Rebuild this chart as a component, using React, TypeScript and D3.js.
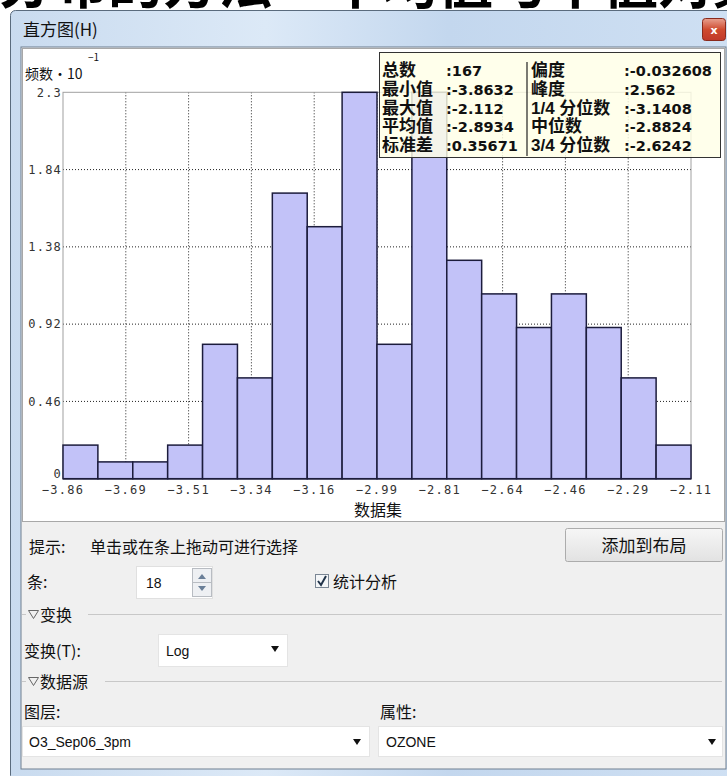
import React from 'react';
import * as d3 from 'd3';

// ---- data ----
const binCounts = [2, 1, 1, 2, 8, 6, 17, 15, 23, 8, 23, 13, 11, 9, 11, 9, 6, 2];
const xTickLabels = ['−3.86', '−3.69', '−3.51', '−3.34', '−3.16', '−2.99', '−2.81', '−2.64', '−2.46', '−2.29', '−2.11'];
const yTickValues = [0, 0.46, 0.92, 1.38, 1.84, 2.3];
const yTickLabels = ['0', '0.46', '0.92', '1.38', '1.84', '2.3'];
const statLabelsLeft = ['总数', '最小值', '最大值', '平均值', '标准差'];
const statValuesLeft = [':167', ':-3.8632', ':-2.112', ':-2.8934', ':0.35671'];
const statLabelsRight = ['偏度', '峰度', '1/4 分位数', '中位数', '3/4 分位数'];
const statValuesRight = [':-0.032608', ':2.562', ':-3.1408', ':-2.8824', ':-2.6242'];

const CJK = "'Noto Sans CJK SC', sans-serif";
const MONO = "'DejaVu Sans Mono', monospace";

export default function App() {
  const W = 727, H = 776;
  const plot = { left: 63, right: 691, top: 92.3, bottom: 478.7 };
  const y = d3.scaleLinear().domain([0, 2.3]).range([plot.bottom, plot.top]);
  const xBin = d3.scaleLinear().domain([0, binCounts.length]).range([plot.left, plot.right]);
  const xTick = d3.scaleLinear().domain([0, xTickLabels.length - 1]).range([plot.left, plot.right]);

  const rowY = (i: number) => 76 + i * 18.8;

  return (
    <div style={{ position: 'absolute', left: 0, top: 0, width: W, height: H, background: '#fff' }}>
      <svg width={W} height={H} style={{ display: 'block' }}>
        <defs>
          <linearGradient id="titleGrad" x1="0" x2="1" y1="0" y2="0">
            <stop offset="0" stopColor="#c9dbef" />
            <stop offset="0.35" stopColor="#dce9f7" />
            <stop offset="0.6" stopColor="#c3d7ee" />
            <stop offset="1" stopColor="#cfe0f3" />
          </linearGradient>
          <linearGradient id="closeGrad" x1="0" x2="0" y1="0" y2="1">
            <stop offset="0" stopColor="#e8a190" />
            <stop offset="0.5" stopColor="#cf4b30" />
            <stop offset="1" stopColor="#c0392b" />
          </linearGradient>
          <linearGradient id="btnGrad" x1="0" x2="0" y1="0" y2="1">
            <stop offset="0" stopColor="#f6f6f6" />
            <stop offset="1" stopColor="#e2e2e2" />
          </linearGradient>
          <clipPath id="topClip"><rect x={0} y={0} width={W} height={11} /></clipPath>
        </defs>

        {/* cut-off document text above window */}
        <g clipPath="url(#topClip)">
          <text x={-2} y={3} fontFamily={CJK} fontWeight="bold" fontSize={55} fill="#000">分布的方法一平均值与中值对数</text>
        </g>

        {/* window frame */}
        <rect x={10.5} y={10.5} width={730} height={770} fill="url(#titleGrad)" stroke="#5a6b7d" rx={5} />
        <rect x={21} y={47} width={705} height={722} fill="#f0f0f0" stroke="#6f7f90" />
        <text x={23} y={36} fontFamily={CJK} fontSize={17} fill="#111">直方图(H)</text>
        <rect x={702.5} y={18.5} width={23} height={22} rx={3} fill="url(#closeGrad)" stroke="#8a2a1c" />
        <text x={714} y={34} textAnchor="middle" fontFamily="'DejaVu Sans', sans-serif" fontWeight="bold" fontSize={11} fill="#fff">x</text>

        {/* chart panel */}
        <rect x={22.5} y={48.5} width={702} height={473} fill="#fff" stroke="#a8a8a8" />

        <text x={25} y={79} fontFamily={CJK} fontSize={14} fill="#111">频数·10</text>
        <text x={88} y={61} fontFamily={CJK} fontSize={10} fill="#111">−1</text>

        {/* grid */}
        {yTickValues.slice(1, -1).map((v) => (
          <line key={'hg' + v} x1={plot.left} x2={plot.right} y1={y(v)} y2={y(v)} stroke="#222" strokeDasharray="1,2" />
        ))}
        {xTickLabels.slice(1, -1).map((l, i) => (
          <line key={'vg' + l} x1={xTick(i + 1)} x2={xTick(i + 1)} y1={plot.top} y2={plot.bottom} stroke="#222" strokeDasharray="1,2" />
        ))}
        <rect x={plot.left} y={plot.top} width={plot.right - plot.left} height={plot.bottom - plot.top} fill="none" stroke="#a0a0a0" />

        {/* bars */}
        {binCounts.map((c, i) => (
          <rect key={'b' + i} x={xBin(i)} y={y(c / 10)} width={xBin(i + 1) - xBin(i)} height={plot.bottom - y(c / 10)}
            fill="#c2c2f8" stroke="#1c1c3c" strokeWidth={1.5} />
        ))}
        <line x1={plot.left} x2={plot.right} y1={plot.bottom} y2={plot.bottom} stroke="#1c1c3c" strokeWidth={1.5} />

        {/* y tick labels */}
        {yTickValues.map((v, i) => (
          <text key={'yl' + i} x={62} y={Math.min(y(v), 474)} dy="0.35em" textAnchor="end" fontFamily={MONO} fontSize={12} letterSpacing={1.2} fill="#333">{yTickLabels[i]}</text>
        ))}
        {/* x tick labels */}
        {xTickLabels.map((l, i) => (
          <text key={'xl' + i} x={xTick(i)} y={494} textAnchor="middle" fontFamily={MONO} fontSize={12} letterSpacing={1.3} fill="#333">{l}</text>
        ))}
        <text x={378} y={516} textAnchor="middle" fontFamily={CJK} fontSize={16} fill="#111">数据集</text>

        {/* statistics box */}
        <rect x={379.5} y={52.5} width={341} height={105} fill="#ffffe6" fillOpacity={0.82} stroke="#333" />
        <line x1={527} x2={527} y1={62} y2={156} stroke="#222" strokeWidth={1.2} />
        {statLabelsLeft.map((l, i) => (
          <text key={'sl' + i} x={382} y={rowY(i)} fontFamily={"'Liberation Sans', " + CJK} fontWeight="bold" fontSize={17} fill="#111">{l}</text>
        ))}
        {statValuesLeft.map((v, i) => (
          <text key={'sv' + i} x={446} y={rowY(i)} fontFamily="'DejaVu Sans', sans-serif" fontWeight="bold" fontSize={14.5} fill="#111">{v}</text>
        ))}
        {statLabelsRight.map((l, i) => (
          <text key={'rl' + i} x={531} y={rowY(i)} fontFamily={"'Liberation Sans', " + CJK} fontWeight="bold" fontSize={17} fill="#111">{l}</text>
        ))}
        {statValuesRight.map((v, i) => (
          <text key={'rv' + i} x={624} y={rowY(i)} fontFamily="'DejaVu Sans', sans-serif" fontWeight="bold" fontSize={14.5} fill="#111">{v}</text>
        ))}

        {/* lower controls */}
        <text x={29} y={553} fontFamily={CJK} fontSize={16} fill="#111">提示:</text>
        <text x={90} y={553} fontFamily={CJK} fontSize={16} fill="#111">单击或在条上拖动可进行选择</text>
        <rect x={565.5} y={528.5} width={157} height={33} fill="url(#btnGrad)" stroke="#acacac" rx={2} />
        <text x={644} y={552} textAnchor="middle" fontFamily={CJK} fontSize={17} fill="#111">添加到布局</text>

        <text x={27} y={588} fontFamily={CJK} fontSize={16} fill="#111">条:</text>
        <rect x={136.5} y={566.5} width={76} height={32} fill="#fff" stroke="#e0e0e0" />
        <text x={146} y={588} fontFamily="'Liberation Sans', sans-serif" fontSize={14} fill="#111">18</text>
        <rect x={192.5} y={568.5} width={19} height={28} fill="#eef0f3" stroke="#b8bcc2" />
        <line x1={193} x2={211} y1={582.5} y2={582.5} stroke="#b8bcc2" />
        <path d="M198,579 L202,574 L206,579 Z" fill="#6a7f98" />
        <path d="M198,586 L202,591 L206,586 Z" fill="#6a7f98" />

        <rect x={315.5} y={574.5} width={13} height={13} fill="#f4f6f8" stroke="#7a8694" />
        <path d="M318,581 L321,585 L326,576" fill="none" stroke="#22344a" strokeWidth={2} />
        <text x={333} y={588} fontFamily={CJK} fontSize={16} fill="#111">统计分析</text>

        <line x1={22} x2={26} y1={614.5} y2={614.5} stroke="#c8c8c8" />
        <path d="M28.5,610.5 L38.5,610.5 L33.5,618.5 Z" fill="none" stroke="#666" />
        <text x={40} y={621} fontFamily={CJK} fontSize={16} fill="#111">变换</text>
        <line x1={88} x2={722} y1={614.5} y2={614.5} stroke="#c8c8c8" />

        <text x={24} y={657} fontFamily={CJK} fontSize={16} fill="#111">变换(T):</text>
        <rect x={158.5} y={634.5} width={129} height={32} fill="#fff" stroke="#e4e4e4" />
        <text x={166} y={656} fontFamily="'Liberation Sans', sans-serif" fontSize={14} fill="#111">Log</text>
        <path d="M271,646 L279,646 L275,652 Z" fill="#111" />

        <line x1={22} x2={26} y1={681.5} y2={681.5} stroke="#c8c8c8" />
        <path d="M28.5,677.5 L38.5,677.5 L33.5,685.5 Z" fill="none" stroke="#666" />
        <text x={40} y={688} fontFamily={CJK} fontSize={16} fill="#111">数据源</text>
        <line x1={105} x2={722} y1={681.5} y2={681.5} stroke="#c8c8c8" />

        <text x={24} y={718} fontFamily={CJK} fontSize={16} fill="#111">图层:</text>
        <text x={380} y={718} fontFamily={CJK} fontSize={16} fill="#111">属性:</text>
        <rect x={22.5} y={726.5} width={347} height={30} fill="#fff" stroke="#e4e4e4" />
        <text x={29} y={747} fontFamily="'Liberation Sans', sans-serif" fontSize={14} fill="#111">O3_Sep06_3pm</text>
        <path d="M353,739 L361,739 L357,745 Z" fill="#111" />
        <rect x={378.5} y={726.5} width={344} height={30} fill="#fff" stroke="#e4e4e4" />
        <text x={386} y={747} fontFamily="'Liberation Sans', sans-serif" fontSize={14} fill="#111">OZONE</text>
        <path d="M708,739 L716,739 L712,745 Z" fill="#111" />
      </svg>
    </div>
  );
}
